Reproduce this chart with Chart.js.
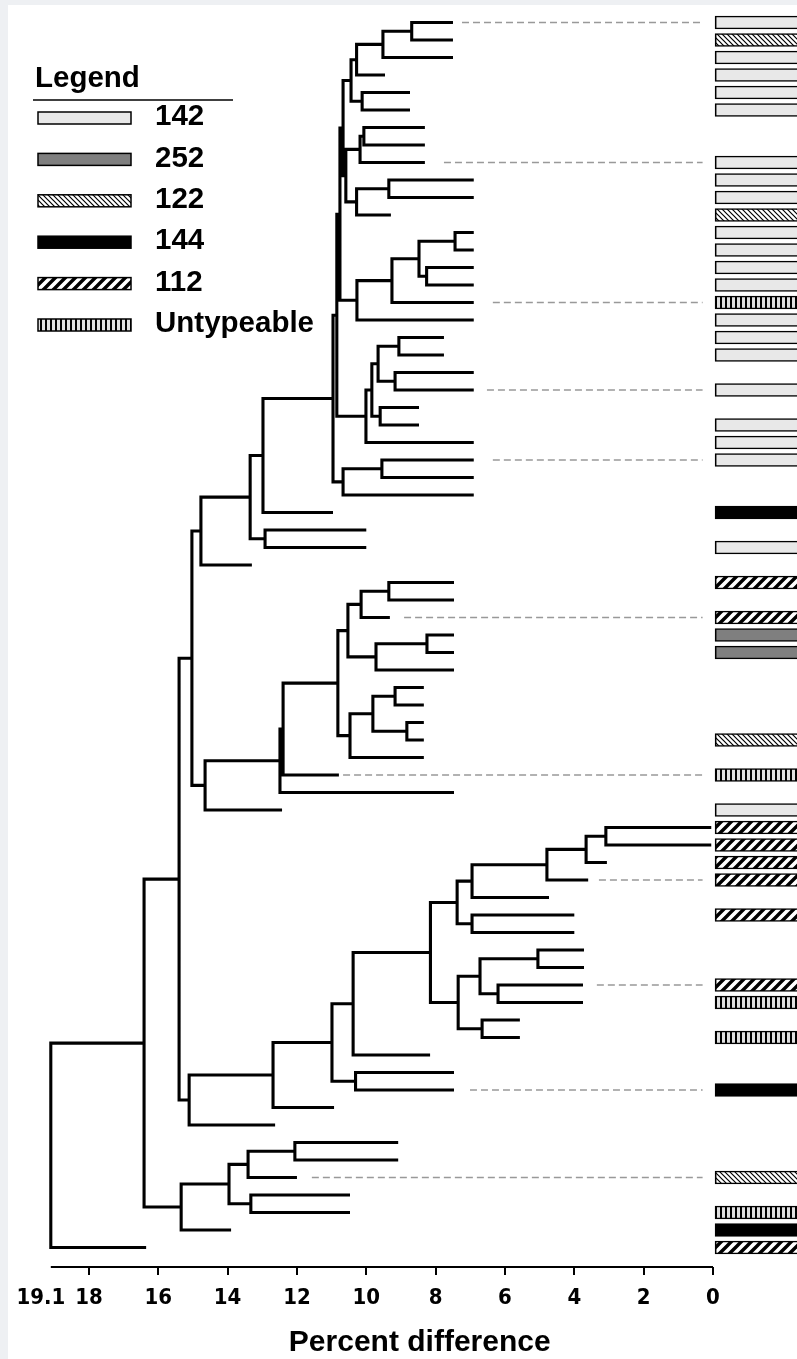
<!DOCTYPE html>
<html><head><meta charset="utf-8">
<script src="https://cdn.jsdelivr.net/npm/chart.js@4/dist/chart.umd.min.js"></script>
<style>
html,body{margin:0;padding:0;background:#eef0f3;}
#wrap{position:absolute;left:8px;top:5px;width:789px;height:1354px;background:#fff;overflow:hidden;}
canvas{display:block;}
</style></head><body>
<div id="wrap"><canvas id="c" width="789" height="1354"></canvas></div>
<script>
// ---------------- data ----------------
const tickValues = [19.1, 18, 16, 14, 12, 10, 8, 6, 4, 2, 0];
const tickLabels = ['19.1', '18', '16', '14', '12', '10', '8', '6', '4', '2', '0'];
const axisTitle = 'Percent difference';

// percent difference at which each leaf (row 0 = top) ends
const leafEnd = [
  7.5, 7.5, 7.5, 9.46, 8.74, 8.74, 8.31, 8.31, 8.31, 6.9,
  6.9, 9.29, 6.9, 6.9, 6.9, 6.9, 6.9, 6.9, 7.76, 7.76,
  6.9, 6.9, 8.48, 8.48, 6.9, 6.9, 6.9, 6.9, 10.96, 10.0,
  10.0, 13.3, 7.47, 7.47, 9.32, 7.47, 7.47, 7.47, 8.34, 8.34,
  8.34, 8.34, 8.34, 10.79, 7.47, 12.43, 0.05, 0.05, 3.06, 3.6,
  4.73, 4.0, 4.0, 3.72, 3.72, 3.75, 3.75, 5.57, 5.57, 8.16,
  7.47, 7.47, 10.93, 12.63, 9.08, 9.08, 12.0, 10.47, 10.47, 13.9,
  16.35
];

// cluster joins: [node, childA, childB, percent difference of the join]
const merges = [
  ['a1', 0, 1, 8.69], ['a2', 'a1', 2, 9.52], ['a3', 'a2', 3, 10.28],
  ['a4', 4, 5, 10.12], ['a5', 'a3', 'a4', 10.44],
  ['b1', 6, 7, 10.07], ['b2', 'b1', 8, 10.18],
  ['c1', 9, 10, 9.35], ['c2', 'c1', 11, 10.28],
  ['z1', 'b2', 'c2', 10.59], ['x1', 'a5', 'z1', 10.67],
  ['d1', 12, 13, 7.44], ['d2', 14, 15, 8.26], ['d3', 'd1', 'd2', 8.48],
  ['d4', 'd3', 16, 9.26], ['d5', 'd4', 17, 10.27],
  ['w1', 'x1', 'd5', 10.76],
  ['e1', 18, 19, 9.06], ['e2', 20, 21, 9.17], ['e3', 'e1', 'e2', 9.66],
  ['e4', 22, 23, 9.60], ['e5', 'e3', 'e4', 9.84], ['e6', 'e5', 24, 10.01],
  ['q1', 'w1', 'e6', 10.85],
  ['f1', 25, 26, 9.55], ['f2', 'f1', 27, 10.67],
  ['p1', 'q1', 'f2', 10.96],
  ['g0', 'p1', 28, 12.98], ['g1', 29, 30, 12.92], ['g2', 'g0', 'g1', 13.35],
  ['g3', 'g2', 31, 14.77],
  ['m1', 32, 33, 9.35], ['m2', 'm1', 34, 10.15], ['m3', 35, 36, 8.25],
  ['m4', 'm3', 37, 9.72], ['m5', 'm2', 'm4', 10.53],
  ['m6', 38, 39, 9.17], ['m7', 40, 41, 8.83], ['m8', 'm6', 'm7', 9.81],
  ['m9', 'm8', 42, 10.47], ['m10', 'm5', 'm9', 10.82],
  ['m11', 'm10', 43, 12.40], ['m12', 'm11', 44, 12.49], ['m13', 'm12', 45, 14.65],
  ['zz', 'g3', 'm13', 15.03],
  ['h1', 46, 47, 3.09], ['h2', 'h1', 48, 3.66], ['h3', 'h2', 49, 4.79],
  ['h4', 'h3', 50, 6.95], ['h5', 51, 52, 6.95], ['h6', 'h4', 'h5', 7.38],
  ['i1', 53, 54, 5.05], ['i2', 55, 56, 6.20], ['i3', 'i1', 'i2', 6.72],
  ['i4', 57, 58, 6.66], ['i5', 'i3', 'i4', 7.35],
  ['j1', 'h6', 'i5', 8.15], ['j2', 'j1', 59, 10.38],
  ['k1', 60, 61, 10.31], ['j3', 'j2', 'k1', 10.99],
  ['j4', 'j3', 62, 12.69], ['j5', 'j4', 63, 15.11],
  ['bb', 'zz', 'j5', 15.40],
  ['gg', 64, 65, 12.06], ['ee', 'gg', 66, 13.41], ['ff', 67, 68, 13.33],
  ['dd', 'ee', 'ff', 13.96], ['cc', 'dd', 69, 15.34],
  ['aa', 'bb', 'cc', 16.41],
  ['root', 'aa', 70, 19.1]
];
const rootStub = 0.17;

// dashed guide lines from leaves to their type bar
const dashedRows  = [0, 8, 16, 21, 25, 34, 43, 49, 55, 61, 66];
const dashedStart = [7.24, 7.76, 6.35, 6.52, 6.35, 8.91, 10.67, 3.29, 3.35, 7.01, 11.57];
const dashedEnd = 0.3;

// type bars (row, type)
const barRows = [0, 1, 2, 3, 4, 5, 8, 9, 10, 11, 12, 13, 14, 15, 16, 17, 18, 19, 21, 23, 24, 25,
  28, 30, 32, 34, 35, 36, 41, 43, 45, 46, 47, 48, 49, 51, 55, 56, 58, 61, 66, 68, 69, 70];
const barTypes = ['142', '122', '142', '142', '142', '142', '142', '142', '142', '122', '142', '142',
  '142', '142', 'Untypeable', '142', '142', '142', '142', '142', '142', '142',
  '144', '142', '112', '112', '252', '252', '122', 'Untypeable', '142', '112', '112', '112', '112',
  '112', '112', 'Untypeable', 'Untypeable', '144', '122', 'Untypeable', '144', '112'];
const barSpan = [-0.06, -3];
const legendTypes = ['142', '252', '122', '144', '112', 'Untypeable'];
const legendTitle = 'Legend';

// ---------------- fills ----------------
function makeFill(type) {
  if (type === '142') return '#e8e8e8';
  if (type === '252') return '#7f7f7f';
  if (type === '144') return '#000000';
  const c = document.createElement('canvas');
  const g = c.getContext('2d');
  if (type === '122') {
    c.width = 5; c.height = 5;
    g.fillStyle = '#fff'; g.fillRect(0, 0, 5, 5);
    g.strokeStyle = '#000'; g.lineWidth = 1.2;
    g.beginPath();
    g.moveTo(-1, -1); g.lineTo(6, 6);
    g.moveTo(-1, 4); g.lineTo(1, 6);
    g.moveTo(4, -1); g.lineTo(6, 1);
    g.stroke();
  } else if (type === '112') {
    c.width = 10; c.height = 10;
    g.fillStyle = '#fff'; g.fillRect(0, 0, 10, 10);
    g.strokeStyle = '#000'; g.lineWidth = 3.4;
    g.beginPath();
    g.moveTo(-2, 12); g.lineTo(12, -2);
    g.moveTo(-2, 2); g.lineTo(2, -2);
    g.moveTo(8, 12); g.lineTo(12, 8);
    g.stroke();
  } else {
    c.width = 5; c.height = 4;
    g.fillStyle = '#e0e0e0'; g.fillRect(0, 0, 5, 4);
    g.fillStyle = '#000'; g.fillRect(2, 0, 2, 4);
  }
  return g.createPattern(c, 'repeat');
}
const fills = {};
legendTypes.forEach(t => { fills[t] = makeFill(t); });

// ---------------- tree geometry (in data units) ----------------
const nodes = {};
function info(id) {
  if (typeof id === 'number') return { y: id, end: leafEnd[id] };
  return { y: nodes[id].y, end: nodes[id].h };
}
const treePts = [];
merges.forEach(([name, a, b, h]) => {
  const A = info(a), B = info(b);
  nodes[name] = { y: (A.y + B.y) / 2, h };
  treePts.push({ x: A.end, y: A.y }, { x: h, y: A.y }, { x: h, y: B.y }, { x: B.end, y: B.y }, { x: null, y: null });
});
const rootNode = nodes['root'];
const dashPts = [];
dashedRows.forEach((r, i) => {
  dashPts.push({ x: dashedStart[i], y: r }, { x: dashedEnd, y: r }, { x: null, y: null });
});

const Y_MIN = -1, Y_MAX = 71.114;
const FONT = '"Liberation Sans", Arial, sans-serif';

const legendPlugin = {
  id: 'typeLegend',
  afterDraw(chart) {
    const ctx = chart.ctx;
    ctx.save();
    ctx.fillStyle = '#000';
    ctx.font = 'bold 29.5px ' + FONT;
    ctx.textBaseline = 'middle';
    ctx.textAlign = 'left';
    ctx.fillText(legendTitle, 27, 73.5);
    ctx.strokeStyle = '#000';
    ctx.lineWidth = 1.5;
    ctx.beginPath(); ctx.moveTo(25, 95); ctx.lineTo(225, 95); ctx.stroke();
    legendTypes.forEach((t, i) => {
      const cy = 113 + i * 41.4;
      ctx.fillStyle = fills[t];
      ctx.fillRect(30, cy - 6, 93, 12);
      ctx.lineWidth = 1.5;
      ctx.strokeStyle = '#000';
      ctx.strokeRect(30, cy - 6, 93, 12);
      ctx.fillStyle = '#000';
      ctx.fillText(t, 147, cy - 1);
    });
    ctx.restore();
  }
};

new Chart(document.getElementById('c'), {
  type: 'line',
  data: {
    datasets: [
      {
        label: 'tree', data: treePts, borderColor: '#000', borderWidth: 3.1,
        pointRadius: 0, spanGaps: false, tension: 0, borderJoinStyle: 'miter',
        borderCapStyle: 'butt', clip: 6, order: 1
      },
      {
        label: 'root', data: [{ x: rootNode.h + rootStub, y: rootNode.y }], showLine: false,
        pointRadius: 1.7, pointBackgroundColor: '#000', pointBorderWidth: 0, clip: false, order: 1
      },
      {
        label: 'guides', data: dashPts, borderColor: '#999999', borderWidth: 1.6,
        borderDash: [7, 4], pointRadius: 0, spanGaps: false, tension: 0, order: 2
      },
      {
        label: 'axis', data: [{ x: tickValues[0], y: Y_MAX }, { x: tickValues[tickValues.length - 1], y: Y_MAX }],
        borderColor: '#000', borderWidth: 2, pointRadius: 0, clip: false, order: 0
      },
      {
        type: 'bar', label: 'types', indexAxis: 'y',
        data: barRows.map(r => ({ y: r, x: barSpan })),
        backgroundColor: c => fills[barTypes[c.dataIndex]],
        borderColor: '#000', borderWidth: 1.7, borderSkipped: false,
        barThickness: 13, grouped: false, order: 3, clip: false
      }
    ]
  },
  options: {
    responsive: false,
    animation: false,
    events: [],
    layout: { autoPadding: false, padding: { left: 42.8, right: 0, top: 0, bottom: 0 } },
    plugins: { legend: { display: false }, tooltip: { enabled: false } },
    scales: {
      x: {
        type: 'linear', reverse: true, min: -2.423, max: 19.1, offset: false,
        afterBuildTicks: s => { s.ticks = tickValues.map(v => ({ value: v })); },
        afterFit: s => { s.height = 92; s.paddingLeft = 0; s.paddingRight = 0; },
        ticks: {
          autoSkip: false, maxRotation: 0, padding: 10, color: '#000',
          font: { family: '"Liberation Sans Narrow", "Arial Narrow", "DejaVu Sans Condensed", sans-serif', weight: 'bold', size: 22 },
          callback: (v, i) => i === 0 ? tickLabels[i] + '\u2002\u2002' : tickLabels[i]
        },
        grid: {
          offset: false, drawOnChartArea: false, drawTicks: true, tickLength: 8, lineWidth: 2,
          color: c => c.index === 0 ? 'rgba(0,0,0,0)' : '#000'
        },
        border: { display: false },
        title: {
          display: true, text: axisTitle + ' ', color: '#000',
          font: { family: FONT, weight: 'bold', size: 30, lineHeight: 1.1 },
          padding: { top: 0, bottom: 0 }
        }
      },
      y: {
        type: 'linear', reverse: true, min: Y_MIN, max: Y_MAX, display: false, offset: false,
        grid: { offset: false }
      }
    }
  },
  plugins: [legendPlugin]
});
</script>
</body></html>
